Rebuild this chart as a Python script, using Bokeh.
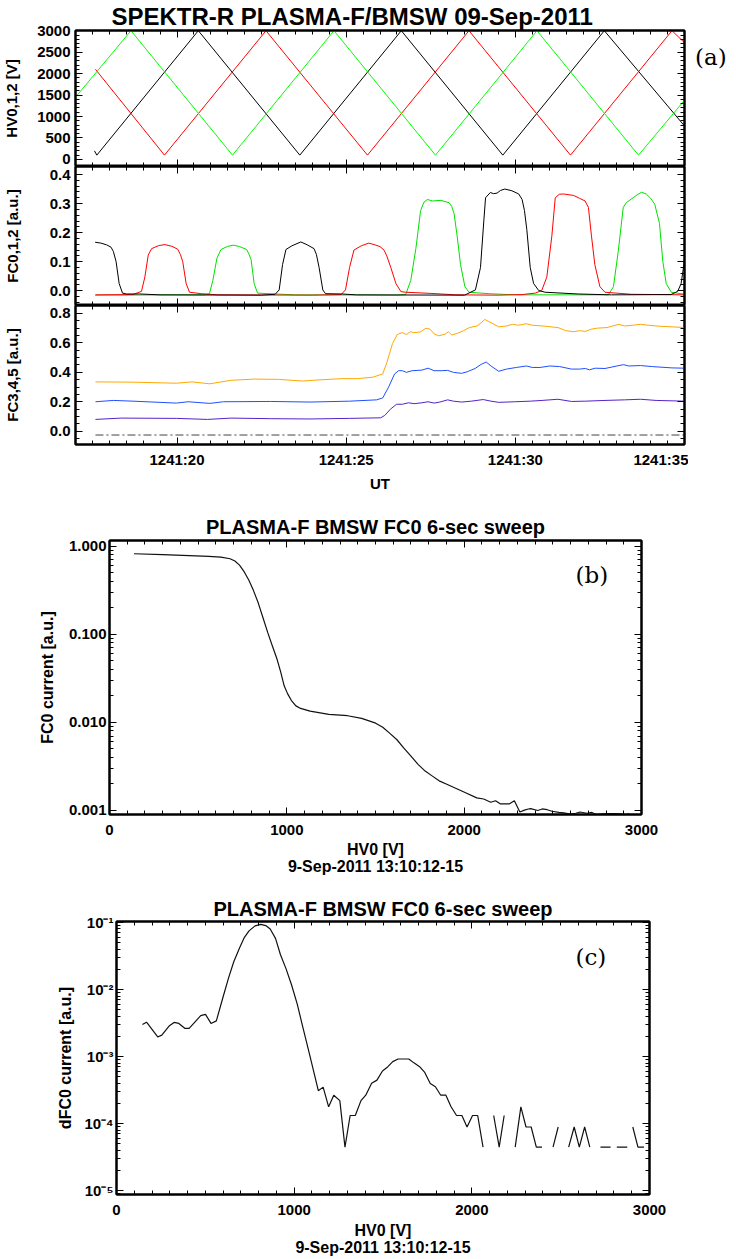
import math
from bokeh.plotting import figure
from bokeh.layouts import column, row
from bokeh.models import (Range1d, LinearAxis, LogAxis, FixedTicker,
                          CustomJSTickFormatter, Label, Title, Div)
from bokeh.embed import file_html
from bokeh.resources import INLINE

nan = float("nan")

# ---------------- panel (a): axes ----------------
ut_ticks = [20, 25, 30, 35]
ut_labels = ["1241:20", "1241:25", "1241:30", "1241:35"]
hv_ticks = [0, 500, 1000, 1500, 2000, 2500, 3000]
fc012_ticks = [0.0, 0.1, 0.2, 0.3, 0.4]
fc345_ticks = [0.0, 0.2, 0.4, 0.6, 0.8]

# HV sweep (vertices of the triangular sweeps), time in s after 12:41
hv0_t = [17.56, 17.63, 20.63, 23.63, 26.63, 29.63, 32.63, 35.0]
hv0_v = [200, 100, 3000, 100, 3000, 100, 3000, 780]
hv1_t = [17.59, 19.63, 22.63, 25.63, 28.63, 31.63, 34.63, 35.0]
hv1_v = [2100, 100, 3000, 100, 3000, 100, 3000, 2720]
hv2_t = [17.0, 18.64, 21.64, 24.64, 27.64, 30.64, 33.64, 35.0]
hv2_v = [1450, 3000, 100, 3000, 100, 3000, 100, 1380]

# FC0,1,2 currents
fc0_t = [17.58, 17.75, 17.92, 18.05, 18.12, 18.20, 18.29, 18.39, 18.51, 18.90,
         19.50, 22.50, 22.90, 23.02, 23.12, 23.22, 23.40, 23.66, 23.85, 24.05,
         24.12, 24.20, 24.31, 24.39, 24.88, 25.30, 28.50, 28.82, 28.97, 29.07,
         29.12, 29.26, 29.36, 29.46, 29.56, 29.69, 29.90, 30.10, 30.20, 30.27,
         30.34, 30.44, 30.54, 30.69, 30.88, 31.86, 32.84, 34.60, 34.80, 34.90,
         34.97, 35.00]
fc0_v = [0.167, 0.164, 0.158, 0.150, 0.135, 0.100, 0.025, -0.008, -0.011, -0.011,
         -0.014, -0.015, -0.012, 0.003, 0.090, 0.142, 0.155, 0.168, 0.158, 0.145,
         0.125, 0.080, 0.003, -0.010, -0.011, -0.014, -0.015, 0.003, 0.080, 0.243,
         0.320, 0.338, 0.334, 0.336, 0.345, 0.350, 0.344, 0.333, 0.314, 0.276,
         0.210, 0.080, 0.025, 0.001, -0.005, -0.011, -0.014, -0.013, -0.002, 0.025,
         0.080, 0.112]
fc1_t = [17.59, 18.70, 18.95, 19.05, 19.15, 19.25, 19.45, 19.64, 19.85, 20.02,
         20.10, 20.17, 20.27, 20.37, 20.72, 21.20, 24.00, 24.85, 24.98, 25.10,
         25.23, 25.45, 25.67, 25.85, 26.00, 26.12, 26.20, 26.32, 26.47, 26.62,
         26.76, 27.50, 28.24, 29.50, 30.20, 30.59, 30.78, 30.93, 31.08, 31.18,
         31.30, 31.42, 31.72, 31.90, 32.06, 32.16, 32.25, 32.35, 32.50, 32.65,
         33.43, 35.00]
fc1_v = [-0.014, -0.013, -0.002, 0.047, 0.123, 0.145, 0.155, 0.159, 0.153, 0.143,
         0.125, 0.100, 0.025, -0.005, -0.010, -0.014, -0.015, -0.013, 0.003, 0.080,
         0.140, 0.155, 0.164, 0.158, 0.152, 0.140, 0.120, 0.080, 0.025, -0.003,
         -0.005, -0.009, -0.014, -0.015, -0.013, -0.008, 0.001, 0.047, 0.189, 0.320,
         0.332, 0.333, 0.328, 0.318, 0.309, 0.287, 0.189, 0.090, 0.014, -0.005,
         -0.012, -0.014]
fc2_t = [17.58, 20.80, 20.96, 21.06, 21.18, 21.30, 21.50, 21.67, 21.85, 22.06,
         22.13, 22.19, 22.28, 22.38, 22.92, 23.50, 26.50, 26.76, 26.91, 27.06,
         27.20, 27.30, 27.40, 27.55, 27.80, 27.95, 28.04, 28.12, 28.19, 28.28,
         28.38, 28.51, 28.63, 29.22, 30.00, 32.75, 32.90, 33.04, 33.19, 33.28,
         33.48, 33.60, 33.73, 33.87, 34.00, 34.12, 34.26, 34.36, 34.46, 34.61,
         35.00]
fc2_v = [-0.015, -0.014, -0.010, 0.036, 0.112, 0.142, 0.153, 0.157, 0.152, 0.142,
         0.125, 0.107, 0.025, -0.008, -0.011, -0.014, -0.015, -0.013, 0.036, 0.145,
         0.276, 0.305, 0.314, 0.309, 0.311, 0.306, 0.303, 0.290, 0.265, 0.189,
         0.090, 0.014, -0.005, -0.010, -0.014, -0.014, 0.014, 0.134, 0.287, 0.303,
         0.320, 0.330, 0.339, 0.333, 0.318, 0.298, 0.232, 0.100, 0.025, -0.005,
         -0.012]

# FC3,4,5 currents
fc3_t = [17.59, 18.70, 19.98, 20.44, 20.97, 21.60, 22.30, 23.00, 23.70, 24.16,
         24.86, 25.33, 25.79, 26.08, 26.20, 26.37, 26.51, 26.66, 26.78, 26.90,
         27.00, 27.19, 27.36, 27.48, 27.60, 27.74, 27.94, 28.02, 28.12, 28.29,
         28.47, 28.64, 28.87, 28.99, 29.10, 29.28, 29.51, 29.74, 29.92, 30.09,
         30.33, 30.50, 30.90, 31.26, 31.49, 31.72, 31.90, 32.07, 32.24, 32.42,
         32.71, 32.88, 33.06, 33.23, 33.47, 33.70, 33.93, 34.28, 34.63, 35.00]
fc3_v = [0.335, 0.333, 0.326, 0.335, 0.322, 0.346, 0.354, 0.352, 0.341, 0.348,
         0.357, 0.357, 0.367, 0.389, 0.465, 0.596, 0.657, 0.670, 0.657, 0.676,
         0.670, 0.674, 0.700, 0.693, 0.661, 0.648, 0.661, 0.676, 0.654, 0.665,
         0.683, 0.704, 0.715, 0.737, 0.759, 0.737, 0.709, 0.715, 0.726, 0.720,
         0.730, 0.720, 0.713, 0.704, 0.683, 0.676, 0.683, 0.678, 0.693, 0.700,
         0.704, 0.715, 0.726, 0.715, 0.720, 0.726, 0.720, 0.713, 0.709, 0.704]
fc4_t = [17.59, 18.12, 18.70, 19.98, 20.33, 20.97, 21.37, 22.77, 23.93, 25.10,
         25.90, 26.08, 26.26, 26.43, 26.55, 26.66, 26.78, 26.95, 27.24, 27.42,
         27.60, 27.83, 28.00, 28.17, 28.41, 28.58, 28.81, 28.99, 29.14, 29.28,
         29.51, 29.74, 30.03, 30.33, 30.50, 30.73, 31.02, 31.31, 31.66, 31.90,
         32.07, 32.19, 32.36, 32.65, 33.00, 33.20, 33.35, 33.70, 34.05, 34.63,
         35.00]
fc4_v = [0.200, 0.209, 0.204, 0.191, 0.200, 0.189, 0.200, 0.202, 0.198, 0.204,
         0.213, 0.226, 0.302, 0.389, 0.411, 0.411, 0.400, 0.411, 0.415, 0.428,
         0.411, 0.411, 0.413, 0.400, 0.393, 0.404, 0.426, 0.454, 0.470, 0.443,
         0.407, 0.422, 0.433, 0.443, 0.433, 0.433, 0.443, 0.439, 0.422, 0.422,
         0.426, 0.417, 0.428, 0.426, 0.443, 0.452, 0.443, 0.446, 0.439, 0.430,
         0.428]
fc5_t = [17.59, 18.35, 19.98, 20.90, 21.60, 22.77, 23.93, 25.10, 26.02, 26.14,
         26.31, 26.49, 26.66, 26.84, 27.01, 27.24, 27.42, 27.60, 27.77, 28.00,
         28.17, 28.41, 28.70, 29.05, 29.28, 29.51, 29.98, 30.44, 30.79, 31.26,
         31.66, 32.07, 32.65, 33.23, 33.70, 34.16, 35.00]
fc5_v = [0.080, 0.089, 0.087, 0.080, 0.089, 0.085, 0.083, 0.087, 0.091, 0.107,
         0.150, 0.183, 0.183, 0.193, 0.187, 0.193, 0.200, 0.191, 0.198, 0.213,
         0.204, 0.198, 0.204, 0.215, 0.204, 0.196, 0.200, 0.204, 0.209, 0.217,
         0.202, 0.204, 0.209, 0.213, 0.217, 0.209, 0.204]
fcoff_t = [17.59, 35.0]
fcoff_v = [-0.026, -0.026]

# ---------------- panel (b): FC0 current vs HV0 ----------------
sweep_ticks = [0, 1000, 2000, 3000]
b_ticks = [0.001, 0.01, 0.1, 1.0]
b_hv = [138, 300, 450, 560, 628, 680, 707, 733, 760, 786, 812, 839, 866, 892, 918,
        945, 966, 985, 1004, 1025, 1051, 1078, 1131, 1237, 1343, 1422, 1501, 1541,
        1581, 1621, 1660, 1700, 1740, 1780, 1819, 1859, 1899, 1952, 2005, 2071,
        2110, 2150, 2177, 2203, 2256, 2283, 2314, 2340, 2362, 2375, 2415, 2440,
        2468, 2495, 2534, 2561, 2600, 2630, 2653, 2693, 2720, 2746, 2799, 2852,
        2890, 2918, 2931]
b_fc0 = [0.82, 0.80, 0.78, 0.765, 0.75, 0.72, 0.68, 0.61, 0.51, 0.41, 0.313, 0.226,
         0.153, 0.105, 0.074, 0.052, 0.037, 0.026, 0.0212, 0.0178, 0.0154, 0.0144,
         0.0134, 0.0123, 0.0119, 0.0111, 0.0098, 0.0088, 0.0075, 0.00635, 0.0051,
         0.00413, 0.00334, 0.0028, 0.00247, 0.00217, 0.0020, 0.00179, 0.0016,
         0.00139, 0.00135, 0.00124, 0.00129, 0.00119, 0.00119, 0.00129, 0.00096,
         0.00101, 0.00104, 0.00105, 0.0010, 0.00104, 0.00102, 0.00098, 0.00095,
         0.00094, 0.00091, 0.00093, 0.00096, 0.00093, 0.00095, 0.00090, 0.00092,
         0.00092, 0.00091, 0.00090, 0.00092]

# ---------------- panel (c): dFC0 vs HV0 ----------------
c_ticks = [1e-5, 1e-4, 1e-3, 1e-2, 1e-1]
c_hv = [146, 169, 232, 255, 296, 324, 351, 384, 409, 474, 501, 532, 562, 599, 630,
        660, 693, 720, 746, 780, 812, 840, 865, 895, 923, 954, 985, 1017, 1048,
        1079, 1106, 1136, 1163, 1194, 1223, 1257, 1286, 1315, 1344, 1376, 1403,
        1436, 1466, 1497, 1526, 1555, 1585, 1615, 1645, 1674, 1706, 1735, 1766,
        1795, 1825, 1854, 1883, 1914, 1944, 1973, 2004, 2033, 2063, 2093, 2123,
        2154, 2182, 2213, 2244, 2276, 2305, 2334, 2363, 2395, 2425, 2457, 2486,
        2515, 2545, 2576, 2605, 2635, 2664, 2694, 2724, 2752, 2781, 2800, 2816,
        2846, 2875, 2890, 2906, 2935, 2969]
c_dfc0 = [3.0e-3, 3.26e-3, 1.96e-3, 2.09e-3, 2.85e-3, 3.23e-3, 3.12e-3, 2.64e-3,
          2.64e-3, 4.07e-3, 4.25e-3, 3.12e-3, 3.41e-3, 7.6e-3, 1.47e-2, 2.6e-2,
          4.2e-2, 6.0e-2, 7.5e-2, 8.9e-2, 9.4e-2, 9.0e-2, 8.0e-2, 5.8e-2, 3.3e-2,
          2.05e-2, 1.18e-2, 6.1e-3, 2.8e-3, 1.3e-3, 6.6e-4, 3.1e-4, 3.5e-4,
          1.78e-4, 2.65e-4, 2.2e-4, 4.45e-5, 1.32e-4, 1.32e-4, 2.2e-4, 2.65e-4,
          4.0e-4, 4.45e-4, 6.1e-4, 7.0e-4, 8.4e-4, 9.2e-4, 9.2e-4, 9.2e-4, 8.05e-4,
          7.07e-4, 5.8e-4, 3.96e-4, 3.54e-4, 2.65e-4, 2.65e-4, 1.78e-4, 1.32e-4,
          1.32e-4, 8.9e-5, 1.32e-4, 1.32e-4, 4.45e-5, nan, 1.32e-4, 4.45e-5,
          1.32e-4, nan, 4.45e-5, 1.78e-4, 8.9e-5, 8.9e-5, 4.45e-5, 4.45e-5, nan,
          4.45e-5, 8.9e-5, nan, 4.45e-5, 8.9e-5, 4.45e-5, 8.9e-5, 4.45e-5, nan,
          4.45e-5, 4.45e-5, 4.45e-5, nan, 4.45e-5, 4.45e-5, 4.45e-5, nan, 8.9e-5,
          4.45e-5, 4.45e-5]

title_a = "SPEKTR-R PLASMA-F/BMSW  09-Sep-2011"
title_bc = "PLASMA-F BMSW FC0 6-sec sweep"
date_txt = "9-Sep-2011 13:10:12-15"
hv_label = "HV0 [V]"

FONT = "Liberation Sans"
SERIF = "DejaVu Serif"

BLANK = CustomJSTickFormatter(code="return '';")


def base_style(p):
    p.xgrid.visible = False
    p.ygrid.visible = False
    p.outline_line_color = "black"
    p.outline_line_width = 2
    p.background_fill_color = "white"
    p.border_fill_color = "white"
    try:
        p.frame_align = False
    except Exception:
        pass


def tick_style(ax, show, standoff=5, size="15px"):
    ax.axis_line_color = "black"
    ax.axis_line_width = 2
    ax.major_tick_in = 7
    ax.major_tick_out = 0
    ax.minor_tick_in = 4
    ax.minor_tick_out = 0
    ax.major_tick_line_color = "black"
    ax.minor_tick_line_color = "black"
    ax.major_tick_line_width = 1
    ax.minor_tick_line_width = 1
    if show:
        ax.major_label_text_font = FONT
        ax.major_label_text_font_style = "bold"
        ax.major_label_text_font_size = size
        ax.major_label_text_color = "black"
        ax.major_label_standoff = standoff
    else:
        ax.formatter = BLANK
        ax.major_label_text_font_size = "1px"
        ax.major_label_standoff = 0


def axis_label(ax, txt, standoff, size="15px", line_height=1.0):
    ax.axis_label = txt
    ax.axis_label_text_font = FONT
    ax.axis_label_text_font_style = "bold"
    ax.axis_label_text_font_size = size
    ax.axis_label_text_color = "black"
    ax.axis_label_text_line_height = line_height
    ax.axis_label_standoff = standoff


def title(p, txt, loc, size, standoff=0, align="center", offset=0):
    p.add_layout(Title(text=txt, text_font=FONT, text_font_style="bold",
                       text_font_size=size, text_color="black", align=align,
                       standoff=standoff, offset=offset), loc)


# ---------- panel (a) ----------
xr = Range1d(17, 35)
x_minor = [17 + 0.5 * i for i in range(37)]
ut_fmt = CustomJSTickFormatter(args=dict(uticks=ut_ticks, ulabels=ut_labels),
                               code="const i = uticks.indexOf(tick); return i >= 0 ? ulabels[i] : '';")


def x_ticker():
    return FixedTicker(ticks=ut_ticks, minor_ticks=x_minor)


def mk_a(height, top, bottom, yr):
    p = figure(width=688, height=height, x_range=xr, y_range=yr,
               output_backend="svg", toolbar_location=None,
               min_border_left=70, min_border_right=4,
               min_border_top=top, min_border_bottom=bottom)
    base_style(p)
    return p


# A1 : HV
pA1 = mk_a(166, 28, 0, Range1d(-165, 3005))
pA1.line(hv0_t, hv0_v, line_color="black", line_width=1)
pA1.line(hv1_t, hv1_v, line_color="#FF0000", line_width=1)
pA1.line(hv2_t, hv2_v, line_color="#00FF00", line_width=1)
hv_minor = list(range(0, 3001, 100))
pA1.yaxis[0].ticker = FixedTicker(ticks=hv_ticks, minor_ticks=hv_minor)
tick_style(pA1.yaxis[0], True)
axis_label(pA1.yaxis[0], "HV0,1,2 [V]", 14)
pA1.xaxis[0].ticker = x_ticker()
tick_style(pA1.xaxis[0], False)
ax = LinearAxis(ticker=x_ticker())
tick_style(ax, False)
pA1.add_layout(ax, "above")
ax = LinearAxis(ticker=FixedTicker(ticks=hv_ticks, minor_ticks=hv_minor))
tick_style(ax, False)
pA1.add_layout(ax, "right")
title(pA1, title_a, "above", "24px", standoff=1, align="left", offset=36)

# A2 : FC0,1,2
pA2 = mk_a(139, 0, 0, Range1d(-0.0506, 0.4275))
pA2.line(fc2_t, fc2_v, line_color="#00E000", line_width=1)
pA2.line(fc1_t, fc1_v, line_color="#FF0000", line_width=1)
pA2.line(fc0_t, fc0_v, line_color="black", line_width=1)
fc012_minor = [round(-0.04 + 0.02 * i, 3) for i in range(23)]
pA2.yaxis[0].ticker = FixedTicker(ticks=fc012_ticks, minor_ticks=fc012_minor)
pA2.yaxis[0].formatter = CustomJSTickFormatter(code="return tick.toFixed(1);")
tick_style(pA2.yaxis[0], True)
axis_label(pA2.yaxis[0], "FC0,1,2 [a.u.]", 26)
pA2.xaxis[0].ticker = x_ticker()
tick_style(pA2.xaxis[0], False)
ax = LinearAxis(ticker=x_ticker())
tick_style(ax, False)
pA2.add_layout(ax, "above")
ax = LinearAxis(ticker=FixedTicker(ticks=fc012_ticks, minor_ticks=fc012_minor))
tick_style(ax, False)
pA2.add_layout(ax, "right")

# A3 : FC3,4,5
pA3 = mk_a(190, 0, 51, Range1d(-0.0904, 0.854))
pA3.line(fcoff_t, fcoff_v, line_color="#444444", line_width=1, line_dash="8 3 2 3")
pA3.line(fc3_t, fc3_v, line_color="#FFA800", line_width=1)
pA3.line(fc4_t, fc4_v, line_color="#1F4FFF", line_width=1)
pA3.line(fc5_t, fc5_v, line_color="#5522C8", line_width=1)
fc345_minor = [round(-0.05 + 0.05 * i, 3) for i in range(18)]
pA3.yaxis[0].ticker = FixedTicker(ticks=fc345_ticks, minor_ticks=fc345_minor)
pA3.yaxis[0].formatter = CustomJSTickFormatter(code="return tick.toFixed(1);")
tick_style(pA3.yaxis[0], True)
axis_label(pA3.yaxis[0], "FC3,4,5 [a.u.]", 26)
pA3.xaxis[0].ticker = x_ticker()
pA3.xaxis[0].formatter = ut_fmt
tick_style(pA3.xaxis[0], True, standoff=6)
axis_label(pA3.xaxis[0], "UT", 4)
ax = LinearAxis(ticker=x_ticker())
tick_style(ax, False)
pA3.add_layout(ax, "above")
ax = LinearAxis(ticker=FixedTicker(ticks=fc345_ticks, minor_ticks=fc345_minor))
tick_style(ax, False)
pA3.add_layout(ax, "right")

lab_a = Div(text="(a)", width=48, height=495, margin=(0, 0, 0, 0),
            styles={"font-family": SERIF, "font-size": "23px", "line-height": "1",
                    "padding-top": "46px", "padding-left": "7px", "color": "black"})

# ---------- panel (b) ----------
sw_minor = list(range(0, 3001, 100))


def log_minor(e0, e1):
    return [m * 10.0 ** e for e in range(e0, e1) for m in range(1, 10)]


pB = figure(width=736, height=382, x_range=Range1d(0, 3000), y_range=Range1d(0.0009, 1.16),
            y_axis_type="log", output_backend="svg", toolbar_location=None,
            min_border_left=109, min_border_right=95, min_border_top=45,
            min_border_bottom=60)
base_style(pB)
pB.line(b_hv, b_fc0, line_color="#111111", line_width=1.2)
pB.xaxis[0].ticker = FixedTicker(ticks=sweep_ticks, minor_ticks=sw_minor)
tick_style(pB.xaxis[0], True, standoff=10)
axis_label(pB.xaxis[0], hv_label + "\n" + date_txt, 3, size="16px", line_height=1.0)
pB.yaxis[0].ticker = FixedTicker(ticks=b_ticks, minor_ticks=log_minor(-4, 1))
pB.yaxis[0].formatter = CustomJSTickFormatter(code="return tick.toFixed(3);")
tick_style(pB.yaxis[0], True, standoff=3)
axis_label(pB.yaxis[0], "FC0 current [a.u.]", 10, size="16px")
ax = LinearAxis(ticker=FixedTicker(ticks=sweep_ticks, minor_ticks=sw_minor))
tick_style(ax, False)
pB.add_layout(ax, "above")
ax = LogAxis(ticker=FixedTicker(ticks=b_ticks, minor_ticks=log_minor(-4, 1)))
tick_style(ax, False)
pB.add_layout(ax, "right")
title(pB, title_bc, "above", "20px", standoff=5)
pB.add_layout(Label(x=2720, y=0.47, text="(b)", text_font=SERIF, text_font_size="23px",
                    text_align="center", text_baseline="middle", text_color="black"))

# ---------- panel (c) ----------
pC = figure(width=736, height=381, x_range=Range1d(0, 3000), y_range=Range1d(8.75e-6, 0.1035),
            y_axis_type="log", output_backend="svg", toolbar_location=None,
            min_border_left=116, min_border_right=87, min_border_top=44,
            min_border_bottom=59)
base_style(pC)
pC.line(c_hv, c_dfc0, line_color="#111111", line_width=1.2)
pC.xaxis[0].ticker = FixedTicker(ticks=sweep_ticks, minor_ticks=sw_minor)
tick_style(pC.xaxis[0], True, standoff=10)
axis_label(pC.xaxis[0], hv_label + "\n" + date_txt, 4, size="16px", line_height=1.0)
sup_fmt = CustomJSTickFormatter(code="""
const e = Math.round(Math.log10(tick));
const sup = {'-':'\u207b','0':'\u2070','1':'\u00b9','2':'\u00b2','3':'\u00b3',
             '4':'\u2074','5':'\u2075','6':'\u2076','7':'\u2077','8':'\u2078','9':'\u2079'};
return '10' + String(e).split('').map(ch => sup[ch]).join('');
""")
pC.yaxis[0].ticker = FixedTicker(ticks=c_ticks, minor_ticks=log_minor(-6, 0))
pC.yaxis[0].formatter = sup_fmt
tick_style(pC.yaxis[0], True, standoff=3)
axis_label(pC.yaxis[0], "dFC0 current [a.u.]", 7, size="16px")
ax = LinearAxis(ticker=FixedTicker(ticks=sweep_ticks, minor_ticks=sw_minor))
tick_style(ax, False)
pC.add_layout(ax, "above")
ax = LogAxis(ticker=FixedTicker(ticks=c_ticks, minor_ticks=log_minor(-6, 0)))
tick_style(ax, False)
pC.add_layout(ax, "right")
title(pC, title_bc, "above", "20px", standoff=3)
pC.add_layout(Label(x=2670, y=0.031, text="(c)", text_font=SERIF, text_font_size="23px",
                    text_align="center", text_baseline="middle", text_color="black"))

layout = column(row(column(pA1, pA2, pA3, spacing=0), lab_a, spacing=0), pB, pC, spacing=0)
open("out.html", "w").write(file_html(layout, INLINE))
